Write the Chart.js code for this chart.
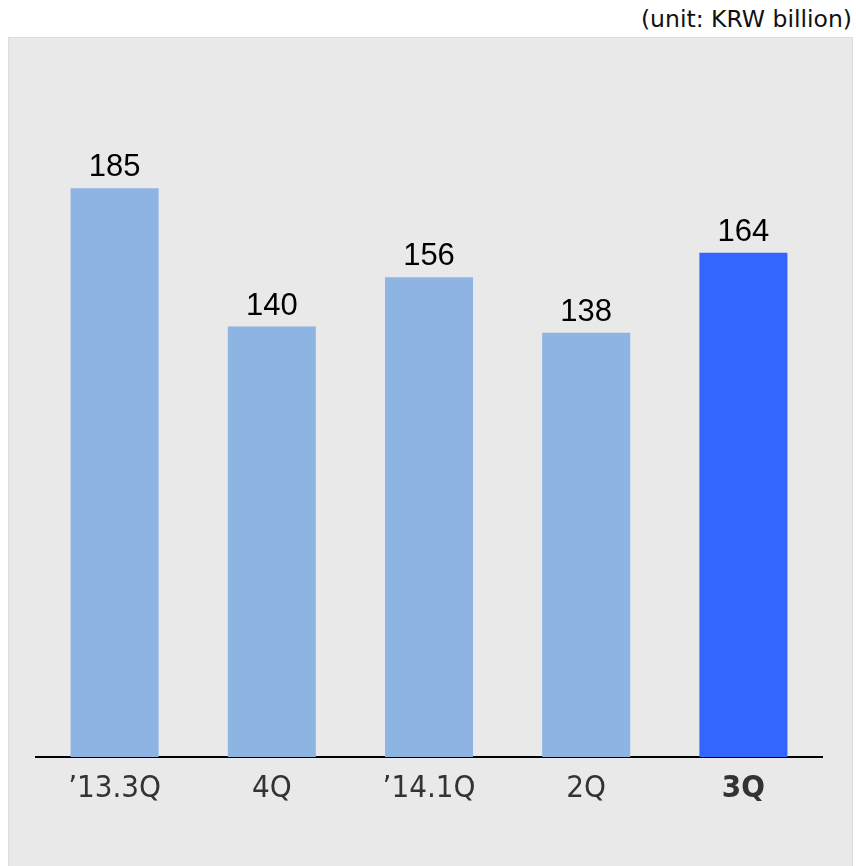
<!DOCTYPE html>
<html>
<head>
<meta charset="utf-8">
<script src="https://cdn.jsdelivr.net/npm/chart.js@4"></script>
<style>
    html, body { margin: 0; padding: 0; background: #fff; }
    #wrap { position: relative; width: 856px; height: 866px; overflow: hidden; }
    #panel {
        position: absolute; left: 8px; top: 37px; width: 843px; height: 830px;
        background: #e9e9e9; border: 1px solid #dcdcdc;
    }
    #unit {
        position: absolute; right: 4px; top: 5px;
        font-family: "DejaVu Sans", sans-serif; font-size: 23.5px; color: #111;
    }
    #chart { position: absolute; left: 0; top: 0; }
</style>
</head>
<body>
<div id="wrap">
    <div id="panel"></div>
    <div id="unit">(unit: KRW billion)</div>
    <canvas id="chart" width="856" height="866"></canvas>
</div>
<script>
// quarters and values (KRW billion)
var categories = ['\u201913.3Q', '4Q', '\u201914.1Q', '2Q', '3Q'];
var values = [185, 140, 156, 138, 164];
var barColors = ['#8eb4e3', '#8eb4e3', '#8eb4e3', '#8eb4e3', '#3366ff'];
var highlightIndex = 4;

// value labels above the bars
var valueLabels = {
    id: 'valueLabels',
    afterDatasetsDraw: function(chart) {
        var ctx = chart.ctx;
        var meta = chart.getDatasetMeta(0);
        ctx.save();
        ctx.font = '31px "Liberation Sans", Arial, sans-serif';
        ctx.fillStyle = '#000';
        ctx.textAlign = 'center';
        ctx.textBaseline = 'alphabetic';
        meta.data.forEach(function(bar, i) {
            ctx.fillText(String(values[i]), bar.x, bar.y - 12);
        });
        ctx.restore();
    }
};

var ctx = document.getElementById('chart').getContext('2d');
var chart = new Chart(ctx, {
    type: 'bar',
    data: {
        labels: categories,
        datasets: [{
            data: values,
            backgroundColor: barColors,
            borderWidth: 0,
            categoryPercentage: 1,
            barPercentage: 0.56
        }]
    },
    options: {
        responsive: false,
        animation: false,
        layout: { padding: { left: 36, right: 34, top: 19, bottom: 0 } },
        plugins: {
            legend: { display: false },
            tooltip: { enabled: false }
        },
        scales: {
            x: {
                grid: { display: false, drawTicks: false },
                border: { display: true, color: '#000', width: 2 },
                ticks: {
                    color: '#333',
                    padding: 13,
                    font: function(c) {
                        return {
                            family: '"DejaVu Sans Condensed", "DejaVu Sans", sans-serif',
                            size: 31,
                            weight: c.index === highlightIndex ? 'bold' : 'normal'
                        };
                    }
                },
                afterFit: function(scale) { scale.height = 109; }
            },
            y: {
                display: false,
                min: 0,
                max: 240
            }
        }
    },
    plugins: [valueLabels]
});
</script>
</body>
</html>
